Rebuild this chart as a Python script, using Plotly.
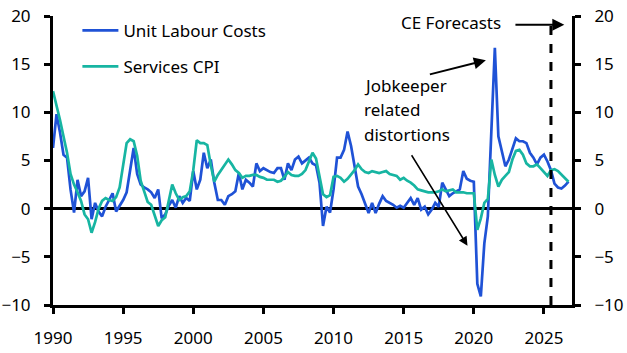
import plotly.graph_objects as go

start_year = 1990
# Quarterly year-on-year % changes, 1990Q1 .. 2026Q4
unit_labour_costs = [
    6.3, 9.8, 7.9, 5.6,
    5.3, 2.0, -0.4, 3.0,
    1.3, 1.8, 3.2, -1.1,
    0.6, -0.3, -0.8, 0.2,
    0.9, 1.6, -0.3, 0.3,
    0.9, 1.7, 4.0, 6.3,
    3.6, 2.5, 2.2, 2.0,
    1.7, 1.1, 2.0, -1.0,
    -0.6, 0.3, 0.9, 0.1,
    1.3, 0.6, 1.1, 0.8,
    3.9, 2.0, 3.0, 5.8,
    4.2, 5.1, 2.7, 0.9,
    0.9, 0.4, 1.3, 1.5,
    1.8, 3.7, 2.0, 3.0,
    2.7, 2.3, 4.7, 3.9,
    4.2, 4.0, 3.8, 3.7,
    4.2, 4.2, 3.0, 4.7,
    4.0, 5.1, 5.4, 4.7,
    5.0, 5.3, 4.7, 4.5,
    2.7, -1.8, 0.2, -0.4,
    2.0, 5.3, 5.3, 6.1,
    8.0, 6.5, 4.4, 2.3,
    1.5, 0.6, -0.45, 0.6,
    -0.45, 0.5, 1.3, 0.8,
    0.6, 0.4, 0.1, 0.3,
    0.1, 0.6, 1.1, 0.4,
    1.1, -0.1, 0.2, -0.6,
    -0.1, 0.6, 0.2, 2.7,
    2.0, 1.3, 1.6, 1.8,
    2.0, 3.9, 3.1, 2.9,
    2.8, -7.8, -9.1, -3.6,
    -0.8, 8.0, 16.7, 7.5,
    5.8, 4.4, 5.1, 6.1,
    7.3, 7.0, 7.0, 6.8,
    5.8, 5.3, 4.6, 5.3,
    5.6, 4.9, 4.0, 2.6,
    2.2, 2.1, 2.4, 2.8,
]
services_cpi = [
    12.2, 10.8, 9.2, 7.5,
    5.8, 3.6, 2.5, 1.7,
    0.8, -0.6, -1.1, -2.5,
    -1.4, 0.0, 0.8, 1.1,
    0.9, 0.8, 1.2, 2.2,
    4.5, 6.8, 7.2, 7.0,
    5.5, 2.9, 1.8, 0.7,
    0.4, -0.6, -1.8, -1.2,
    -0.9, 0.8, 2.5, 1.6,
    0.9, 1.2, 1.3, 1.8,
    4.0, 7.1, 6.8, 6.8,
    6.6, 4.5, 2.8, 3.5,
    4.0, 4.6, 5.1, 4.6,
    4.0, 3.7, 3.2, 3.4,
    3.4, 3.5, 3.5, 3.3,
    3.2, 3.0, 3.0, 3.0,
    2.8, 2.9, 3.3, 3.8,
    3.5, 3.4, 3.4, 3.6,
    4.0, 5.0, 5.8, 5.2,
    3.5, 1.5, 1.2, 1.4,
    3.3, 3.4, 3.2, 2.8,
    3.1, 3.5, 4.0, 4.6,
    4.1, 3.8, 3.7, 3.9,
    3.8, 3.7, 3.8, 3.9,
    3.6, 3.5, 3.4, 3.0,
    3.2, 2.9, 2.7, 2.4,
    2.0, 1.9, 1.8, 1.7,
    1.7, 1.7, 1.8, 2.0,
    1.8, 1.9, 2.0, 1.7,
    1.7, 1.7, 1.6, 1.6,
    1.6, -2.2, -1.0, 0.6,
    1.0, 5.1, 3.5, 2.3,
    3.0, 3.4, 3.8, 5.1,
    6.0, 6.1, 5.6, 4.7,
    4.4, 4.4, 4.6, 4.2,
    3.8, 3.4, 4.0, 4.1,
    3.9, 3.5, 3.1, 2.8,
]
x_ticks = [1990, 1995, 2000, 2005, 2010, 2015, 2020, 2025]
y_ticks = [-10, -5, 0, 5, 10, 15, 20]
forecast_start = 2025.5

quarters = [start_year + i / 4 for i in range(len(unit_labour_costs))]

BLUE = "#1F52D6"
TEAL = "#17B5A2"
FONT = "Noto Sans"
FS = 17

fig = go.Figure()
fig.add_trace(go.Scatter(x=quarters, y=unit_labour_costs, name="Unit Labour Costs",
                         mode="lines", line=dict(color=BLUE, width=2.7), legendgroup="a"))
fig.add_trace(go.Scatter(x=quarters, y=services_cpi, name="Services CPI",
                         mode="lines", line=dict(color=TEAL, width=2.7), legendgroup="b"))
# invisible trace to drive right axis
fig.add_trace(go.Scatter(x=[quarters[0]], y=[0], yaxis="y2", showlegend=False,
                         mode="markers", marker=dict(opacity=0), hoverinfo="skip"))

axis_common = dict(showgrid=False, showline=True, linecolor="black", linewidth=3,
                   ticks="outside", ticklen=6, tickwidth=2.5, tickcolor="black",
                   automargin=False,
                   tickfont=dict(family=FONT, size=FS, color="black"))

fig.update_layout(
    width=627, height=353,
    margin=dict(l=53, r=55, t=16, b=48, autoexpand=False),
    plot_bgcolor="white", paper_bgcolor="white",
    font=dict(family=FONT, size=FS, color="black"),
    showlegend=True,
    legend=dict(x=0.047, y=1.011, xanchor="left", yanchor="top", bgcolor="rgba(0,0,0,0)",
                font=dict(family=FONT, size=FS), tracegroupgap=11, borderwidth=0,
                itemwidth=36),
    xaxis=dict(range=[1990, 2027], tickvals=x_ticks, ticklabelstandoff=10, **axis_common),
    yaxis=dict(range=[-10, 20], tickvals=y_ticks, zeroline=True, zerolinecolor="black",
               zerolinewidth=3, ticklabelstandoff=10, **axis_common),
    yaxis2=dict(range=[-10, 20], tickvals=y_ticks, overlaying="y", side="right",
                zeroline=False, ticklabelstandoff=10, **axis_common),
)

# forecast dashed line
fig.add_shape(type="line", xref="x", yref="y", x0=forecast_start, x1=forecast_start,
              y0=-10, y1=19.6, line=dict(color="black", width=3, dash="dash"))

# CE Forecasts
fig.add_annotation(x=2022.07, y=19.3, xref="x", yref="y", text="CE Forecasts",
                   showarrow=False, xanchor="right", yanchor="middle",
                   font=dict(family=FONT, size=FS, color="black"))
fig.add_annotation(x=2026.45, y=19.1, ax=2022.86, ay=19.1, xref="x", yref="y",
                   axref="x", ayref="y", text="", showarrow=True, arrowhead=2,
                   arrowsize=1.2, arrowwidth=2, arrowcolor="black")

# Jobkeeper text
for i, line in enumerate(["Jobkeeper", "related", "distortions"]):
    fig.add_annotation(x=2012.0, y=12.8 - i * 2.55, xref="x", yref="y", text=line,
                       showarrow=False, xanchor="left", yanchor="middle",
                       font=dict(family=FONT, size=FS, color="black"))
fig.add_annotation(x=2020.86, y=15.4, ax=2016.76, ay=13.9, xref="x", yref="y",
                   axref="x", ayref="y", text="", showarrow=True, arrowhead=2,
                   arrowsize=1.2, arrowwidth=2, arrowcolor="black")
fig.add_annotation(x=2019.55, y=-3.85, ax=2015.5, ay=5.7, xref="x", yref="y",
                   axref="x", ayref="y", text="", showarrow=True, arrowhead=2,
                   arrowsize=1.2, arrowwidth=1.5, arrowcolor="black")

fig.write_html("out.html")
